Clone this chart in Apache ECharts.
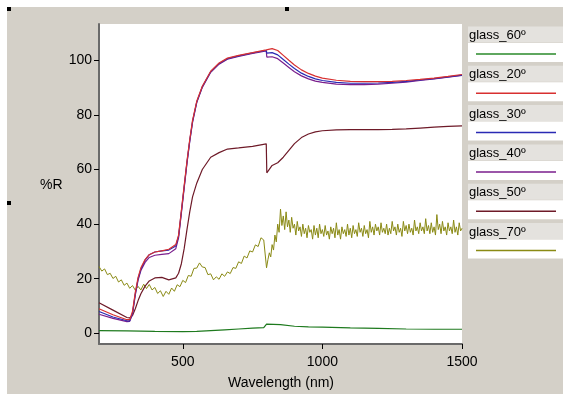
<!DOCTYPE html>
<html>
<head>
<meta charset="utf-8">
<script src="https://cdn.jsdelivr.net/npm/echarts@6/dist/echarts.min.js"></script>
<style>
  html, body { margin: 0; padding: 0; background: #fff; }
  #chart { width: 563px; height: 394px; }
</style>
</head>
<body>
<div id="chart"></div>
<script>
// wavelength grid shared by the smooth reflectance curves (nm)
const wlSmooth = [200, 250, 300, 310, 320, 330, 340, 350, 365, 380, 400, 425, 450, 475, 485, 495, 505, 515, 525, 535, 550, 570, 600, 630, 660, 700, 750, 799, 801, 820, 840, 860, 880, 900, 925, 950, 975, 1000, 1050, 1100, 1150, 1200, 1250, 1300, 1350, 1400, 1450, 1500];

const glass20 = [9.0, 6.8, 5.0, 5.0, 8.0, 15.0, 20.5, 24.0, 27.0, 28.8, 29.8, 30.2, 30.8, 32.5, 36.0, 45.0, 54.0, 63.0, 71.0, 78.0, 85.0, 90.5, 96.0, 99.0, 100.8, 101.8, 102.8, 103.8, 103.8, 104.3, 103.6, 101.8, 100.0, 98.3, 96.5, 95.2, 94.2, 93.5, 92.7, 92.3, 92.2, 92.2, 92.3, 92.6, 93.0, 93.5, 94.1, 94.8];
const glass30 = [8.0, 6.0, 4.6, 4.6, 7.5, 14.5, 20.0, 23.5, 26.8, 28.8, 29.8, 30.2, 30.5, 32.0, 35.6, 44.6, 53.6, 62.6, 70.6, 77.6, 84.7, 90.3, 95.8, 98.8, 100.6, 101.6, 102.7, 103.6, 102.6, 102.8, 102.0, 100.3, 98.6, 97.0, 95.3, 94.1, 93.2, 92.6, 91.9, 91.6, 91.6, 91.7, 91.9, 92.3, 92.8, 93.3, 93.9, 94.6];
const glass40 = [7.0, 5.5, 4.3, 4.4, 7.0, 14.0, 19.5, 23.0, 26.0, 27.8, 28.6, 28.9, 29.2, 31.0, 35.0, 44.0, 53.2, 62.2, 70.3, 77.3, 84.5, 90.1, 95.6, 98.6, 100.4, 101.4, 102.5, 103.4, 101.2, 101.3, 100.6, 99.0, 97.4, 95.8, 94.3, 93.2, 92.4, 91.9, 91.3, 91.1, 91.1, 91.3, 91.6, 92.0, 92.6, 93.2, 93.8, 94.5];
const glass50 = [11.2, 8.5, 5.8, 5.7, 6.5, 9.0, 12.0, 14.5, 17.3, 19.2, 20.3, 20.5, 19.6, 20.3, 22.0, 25.5, 31.0, 38.0, 44.5, 50.0, 55.0, 60.0, 64.5, 66.2, 67.5, 67.9, 68.5, 69.4, 58.8, 61.5, 62.5, 64.5, 67.0, 69.5, 71.7, 73.0, 73.8, 74.2, 74.5, 74.6, 74.6, 74.6, 74.7, 74.9, 75.2, 75.5, 75.8, 76.0];

const wlGreen = [200, 300, 400, 500, 550, 600, 650, 700, 750, 790, 800, 850, 900, 950, 1000, 1100, 1200, 1300, 1400, 1500];
const glass60 = [1.0, 0.9, 0.7, 0.6, 0.7, 1.0, 1.3, 1.6, 1.9, 2.1, 3.4, 3.2, 2.6, 2.4, 2.3, 2.0, 1.8, 1.6, 1.5, 1.5];

// noisy curve: 10 nm steps below 800 nm, 5 nm steps above
const wlNoisy = [200, 210, 220, 230, 240, 250, 260, 270, 280, 290, 300, 310, 320, 330, 340, 350, 360, 370, 380, 390, 400, 410, 420, 430, 440, 450, 460, 470, 480, 490, 500, 510, 520, 530, 540, 550, 560, 570, 580, 590, 600, 610, 620, 630, 640, 650, 660, 670, 680, 690, 700, 710, 720, 730, 740, 750, 760, 770, 780, 790,
  800, 805, 810, 815, 820, 825, 830, 835, 840, 845, 850, 855, 860, 865, 870, 875, 880, 885, 890, 895, 900, 905, 910, 915, 920, 925, 930, 935, 940, 945, 950, 955, 960, 965, 970, 975, 980, 985, 990, 995,
  1000, 1005, 1010, 1015, 1020, 1025, 1030, 1035, 1040, 1045, 1050, 1055, 1060, 1065, 1070, 1075, 1080, 1085, 1090, 1095, 1100, 1105, 1110, 1115, 1120, 1125, 1130, 1135, 1140, 1145, 1150, 1155, 1160, 1165, 1170, 1175, 1180, 1185, 1190, 1195,
  1200, 1205, 1210, 1215, 1220, 1225, 1230, 1235, 1240, 1245, 1250, 1255, 1260, 1265, 1270, 1275, 1280, 1285, 1290, 1295, 1300, 1305, 1310, 1315, 1320, 1325, 1330, 1335, 1340, 1345, 1350, 1355, 1360, 1365, 1370, 1375, 1380, 1385, 1390, 1395,
  1400, 1405, 1410, 1415, 1420, 1425, 1430, 1435, 1440, 1445, 1450, 1455, 1460, 1465, 1470, 1475, 1480, 1485, 1490, 1495, 1500];
const glass70 = [24.5, 22.8, 23.6, 21.5, 22.0, 20.1, 20.9, 18.8, 19.6, 17.6, 18.4, 16.5, 17.5, 15.8, 17.2, 15.9, 18.0, 16.4, 17.9, 15.9, 16.8, 14.6, 15.6, 13.5, 15.4, 14.3, 16.6, 15.4, 17.8, 17.1, 19.4, 18.6, 21.2, 20.9, 23.8, 23.9, 25.8, 24.3, 24.1, 21.5, 21.8, 19.6, 20.7, 19.8, 21.8, 20.9, 22.5, 21.9, 24.1, 23.8, 26.2, 25.6, 28.3, 27.6, 30.2, 29.8, 32.4, 31.8, 35.0, 34.2,
  24.0, 27.0, 29.5, 28.0, 32.5, 30.5, 36.0, 33.5, 40.0, 37.0, 45.5, 39.5, 43.0, 38.0, 44.5, 39.0, 41.5, 37.0, 42.5, 38.5, 40.0, 36.0, 41.0, 37.5, 39.0, 35.5, 40.0, 36.5, 38.5, 35.0, 39.5, 37.0, 38.0, 34.5, 39.5, 36.0, 38.5, 35.0, 40.0, 36.5,
  38.0, 35.5, 39.5, 36.0, 37.5, 34.5, 39.0, 36.5, 38.5, 35.0, 40.5, 36.0, 38.0, 34.5, 39.0, 36.5, 38.0, 35.5, 40.0, 36.0, 38.5, 35.0, 39.5, 36.5, 38.0, 35.5, 40.5, 37.0, 38.5, 35.5, 39.5, 36.5, 38.0, 35.0, 41.0, 37.0, 39.0, 36.0, 40.0, 37.5,
  39.0, 36.0, 40.5, 37.0, 38.5, 36.5, 40.0, 36.0, 38.5, 36.5, 41.0, 37.5, 39.0, 36.0, 40.0, 37.0, 38.5, 35.5, 41.0, 37.5, 39.5, 36.5, 40.0, 37.0, 38.5, 36.0, 41.5, 37.5, 39.0, 36.5, 40.5, 37.5, 39.0, 36.5, 42.0, 37.5, 39.5, 36.5, 40.5, 37.0,
  39.0, 36.0, 43.5, 38.0, 40.0, 36.5, 41.0, 37.5, 39.0, 36.0, 40.5, 37.5, 39.0, 36.5, 41.5, 37.0, 39.0, 36.0, 40.5, 37.5, 38.5];

const xTicks = [500, 1000, 1500];
const yTicks = [0, 20, 40, 60, 80, 100];

// legend order as in the picture
const legendNames = ["glass_60º", "glass_20º", "glass_30º", "glass_40º", "glass_50º", "glass_70º"];
const legendColors = ["#2a8a2a", "#d83030", "#2a2ab4", "#7a1e8c", "#6e1a28", "#8a8a14"];

const zip = (xs, ys) => xs.map((x, i) => [x, ys[i]]);

const chart = echarts.init(document.getElementById("chart"));
const font = "'Liberation Sans', Arial, sans-serif";

const lineSeries = (name, xs, ys, color, width) => ({
  name,
  type: "line",
  data: zip(xs, ys),
  symbol: "none",
  smooth: false,
  animation: false,
  lineStyle: { color, width },
});

// legend drawn by hand (the original uses stacked boxes)
const legendGraphics = [];
legendNames.forEach((name, i) => {
  const lineY = 54 + i * 39.3;
  const textY = 35.5 + i * 39.3;
  legendGraphics.push({
    type: "rect", silent: true,
    shape: { x: 468, y: textY - 9, width: 95, height: 16 },
    style: { fill: "#e4e2de" },
  });
  legendGraphics.push({
    type: "rect", silent: true,
    shape: { x: 468, y: lineY - 11, width: 95, height: 19 },
    style: { fill: "#ffffff" },
  });
  legendGraphics.push({
    type: "line", silent: true,
    shape: { x1: 476, y1: lineY, x2: 556, y2: lineY },
    style: { stroke: legendColors[i], lineWidth: 1.5 },
  });
  legendGraphics.push({
    type: "text", silent: true,
    x: 469, y: textY,
    style: { text: name, fill: "#000", font: "13px " + font, textVerticalAlign: "middle" },
  });
});

const option = {
  backgroundColor: "#d4d0c8",
  animation: false,
  grid: {
    left: 99, right: 101, top: 24, bottom: 50,
    show: true, backgroundColor: "#ffffff", borderWidth: 0,
  },
  xAxis: {
    type: "value",
    min: 200,
    max: 1500,
    axisLine: { onZero: false, lineStyle: { color: "#6a6a6a", width: 2 } },
    axisTick: { show: true, length: 5, customValues: xTicks, lineStyle: { color: "#000" } },
    axisLabel: {
      customValues: xTicks, color: "#000", fontSize: 14, fontFamily: font, margin: 11,
      formatter: (v) => String(v),
    },
    splitLine: { show: false },
  },
  yAxis: {
    type: "value",
    min: -3.9,
    max: 113.3,
    axisLine: { show: true, onZero: false, lineStyle: { color: "#6a6a6a", width: 2 } },
    axisTick: { show: true, length: 5, customValues: yTicks, lineStyle: { color: "#000" } },
    axisLabel: { customValues: yTicks, color: "#000", fontSize: 14, fontFamily: font, margin: 7 },
    splitLine: { show: false },
  },
  series: [
    lineSeries("glass_70º", wlNoisy, glass70, "#8a8a14", 1),
    lineSeries("glass_60º", wlGreen, glass60, "#1e7a1e", 1.2),
    lineSeries("glass_50º", wlSmooth, glass50, "#6e1a28", 1.2),
    lineSeries("glass_40º", wlSmooth, glass40, "#7a1e8c", 1.2),
    lineSeries("glass_30º", wlSmooth, glass30, "#2a2ab4", 1.2),
    lineSeries("glass_20º", wlSmooth, glass20, "#d83030", 1.2),
  ],
  graphic: [
    // white margin at top and left of the screenshot
    { type: "rect", silent: true, shape: { x: 0, y: 0, width: 563, height: 7 }, style: { fill: "#fff" } },
    { type: "rect", silent: true, shape: { x: 0, y: 0, width: 7, height: 394 }, style: { fill: "#fff" } },
    // selection handles
    { type: "rect", silent: true, shape: { x: 7, y: 7, width: 4, height: 4 }, style: { fill: "#000" } },
    { type: "rect", silent: true, shape: { x: 285, y: 7, width: 4, height: 4 }, style: { fill: "#000" } },
    { type: "rect", silent: true, shape: { x: 7, y: 201, width: 4, height: 4 }, style: { fill: "#000" } },
    {
      type: "text", silent: true, x: 40, y: 185,
      style: { text: "%R", fill: "#000", font: "14px " + font, textVerticalAlign: "middle" },
    },
    {
      type: "text", silent: true, x: 281, y: 383,
      style: { text: "Wavelength (nm)", fill: "#000", font: "14px " + font, textAlign: "center", textVerticalAlign: "middle" },
    },
    ...legendGraphics,
  ],
};

chart.setOption(option);
</script>
</body>
</html>
